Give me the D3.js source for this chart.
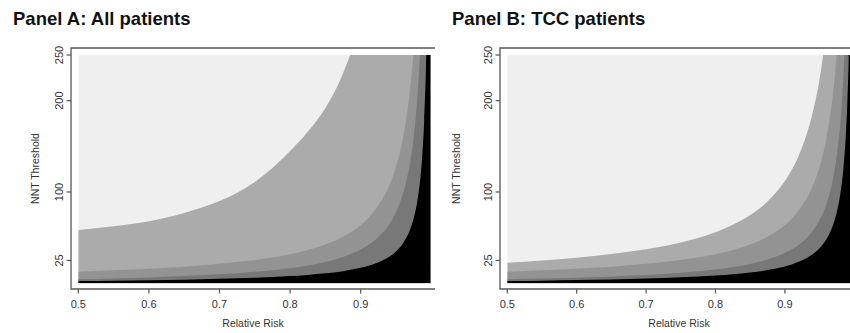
<!DOCTYPE html>
<html>
<head>
<meta charset="utf-8">
<script src="https://cdn.jsdelivr.net/npm/d3@7"></script>
<style>
  html, body { margin: 0; padding: 0; background: #fff; }
  svg { display: block; }
</style>
</head>
<body>
<svg id="chart" width="850" height="333"></svg>
<script>
// ---- data ----
const titles = ["Panel A: All patients", "Panel B: TCC patients"];
const xLabel = "Relative Risk";
const yLabel = "NNT Threshold";
const xTicks = [0.5, 0.6, 0.7, 0.8, 0.9];
const yTicks = [25, 100, 200, 250];
const yMax = 250;

const rrGrid = [0.5, 0.55, 0.6, 0.65, 0.7, 0.75, 0.8, 0.825, 0.85, 0.875, 0.9, 0.91, 0.92, 0.93, 0.94, 0.95, 0.96, 0.965, 0.97, 0.975, 0.98, 0.9825, 0.985, 0.9875, 0.99, 0.9925, 0.995, 0.9975, 0.999];

// Panel A boundaries (NNT value of upper edge of each shaded band)
const panelA_band1 = [58.5, 62.5, 68, 77, 90, 111, 145, 166, 192, 230, 290, 328, 370, 420, 490, 588, 735, 840, 980, 1176, 1470, 1680, 1960, 2352, 2940, 3920, 5880, 11760, 29400];
const panelA_band2 = [12.7, 14.2, 16.0, 18.2, 21.3, 25.5, 31.9, 36.5, 42.5, 51.0, 63.8, 70.9, 79.8, 91.1, 106.3, 127.6, 159.5, 182.3, 212.7, 255.2, 319, 364.6, 425.3, 510, 638, 850, 1276, 2552, 6380];
const panelA_band3 = [4.4, 5.3, 6.4, 7.9, 9.8, 12.6, 16.6, 19.6, 23.4, 28.9, 37.0, 41.6, 47.2, 54.5, 64.2, 77.8, 98.2, 112.8, 132.2, 159.4, 200.2, 229.4, 268.3, 322.6, 404.2, 540, 812, 1628, 4076];
const panelA_band4 = [2.5, 2.9, 3.4, 4.0, 4.9, 6.1, 7.9, 9.2, 10.9, 13.3, 16.9, 18.9, 21.4, 24.6, 28.9, 34.9, 43.9, 50.3, 58.9, 70.9, 88.9, 101.8, 118.9, 142.9, 178.9, 238.9, 358.9, 718.9, 1799];

// Panel B boundaries
const panelB_band1 = [22.4, 24.9, 28.0, 32.0, 37.3, 44.8, 56.0, 64.0, 74.7, 89.6, 112, 124.4, 140, 160, 186.7, 224, 280, 320, 373, 448, 560, 640, 747, 896, 1120, 1493, 2240, 4480, 11200];
const panelB_band2 = [12.7, 14.2, 16.0, 18.2, 21.3, 25.5, 31.9, 36.5, 42.5, 51.0, 63.8, 70.9, 79.8, 91.1, 106.3, 127.6, 159.5, 182.3, 212.7, 255.2, 319, 364.6, 425.3, 510, 638, 850, 1276, 2552, 6380];
const panelB_band3 = [4.4, 5.2, 6.2, 7.5, 9.2, 11.6, 15.2, 17.8, 21.2, 26.0, 33.2, 37.2, 42.2, 48.6, 57.2, 69.2, 87.2, 100.1, 117.2, 141.2, 177.2, 202.9, 237.2, 285.2, 357.2, 477, 717, 1437, 3597];
const panelB_band4 = [2.5, 2.9, 3.5, 4.2, 5.2, 6.5, 8.5, 9.9, 11.8, 14.5, 18.5, 20.7, 23.5, 27.1, 31.8, 38.5, 48.5, 55.6, 65.2, 78.5, 98.5, 112.8, 131.8, 158.5, 198.5, 265.2, 398.5, 798.5, 1998];

const bandColors = ["#ababab", "#939393", "#787878", "#000000"];
const bgColor = "#efefef";

// ---- layout ----
const panels = [
  { title: titles[0], bands: [panelA_band1, panelA_band2, panelA_band3, panelA_band4],
    titleX: 13, frameL: 71, frameR: 435, x0: 78.3, x1: 431.3, tickLblX: 62.5, yLblX: 38.5 },
  { title: titles[1], bands: [panelB_band1, panelB_band2, panelB_band3, panelB_band4],
    titleX: 452, frameL: 500, frameR: 858, x0: 507.3, x1: 854.3, tickLblX: 491.5, yLblX: 460 }
];
const frameT = 48, frameB = 289;

const svg = d3.select("#chart");
const font = "'Liberation Sans', Arial, Helvetica, sans-serif";
const axisColor = "#555";
const textColor = "#333";

panels.forEach((p, i) => {
  const x = d3.scaleLinear().domain([0.5, 1.0]).range([p.x0, p.x1]);
  const y = d3.scaleLinear().domain([0, yMax]).range([283.3, 55]);
  const g = svg.append("g");

  const clipId = "clip" + i;
  svg.append("defs").append("clipPath").attr("id", clipId)
    .append("rect")
    .attr("x", x(0.5)).attr("y", y(yMax))
    .attr("width", x(rrGrid[rrGrid.length - 1]) - x(0.5))
    .attr("height", y(0) - y(yMax));

  const plot = g.append("g").attr("clip-path", `url(#${clipId})`);
  plot.append("rect")
    .attr("x", x(0.5)).attr("y", y(yMax))
    .attr("width", x(rrGrid[rrGrid.length - 1]) - x(0.5))
    .attr("height", y(0) - y(yMax))
    .attr("fill", bgColor);

  p.bands.forEach((vals, k) => {
    const data = rrGrid.map((r, j) => ({ r, v: vals[j] }));
    const area = d3.area()
      .x(d => x(d.r))
      .y0(y(0))
      .y1(d => y(Math.min(d.v, 5000)))
      .curve(d3.curveMonotoneX);
    plot.append("path").datum(data).attr("d", area).attr("fill", bandColors[k]);
  });

  // frame (top, left, bottom)
  g.append("path")
    .attr("d", `M${p.frameR},${frameT}H${p.frameL}V${frameB}H${p.frameR}`)
    .attr("fill", "none").attr("stroke", axisColor).attr("stroke-width", 1.3);

  // y ticks
  yTicks.forEach(t => {
    g.append("line").attr("x1", p.frameL - 4.5).attr("x2", p.frameL)
      .attr("y1", y(t)).attr("y2", y(t))
      .attr("stroke", axisColor).attr("stroke-width", 1.2);
    g.append("text")
      .attr("transform", `translate(${p.tickLblX},${y(t)}) rotate(-90)`)
      .attr("text-anchor", "middle")
      .attr("font-family", font).attr("font-size", 11).attr("fill", textColor)
      .text(t);
  });

  // x ticks
  xTicks.forEach(t => {
    g.append("line").attr("x1", x(t)).attr("x2", x(t))
      .attr("y1", frameB).attr("y2", frameB + 4.5)
      .attr("stroke", axisColor).attr("stroke-width", 1.2);
    g.append("text")
      .attr("x", x(t)).attr("y", 307.5)
      .attr("text-anchor", "middle")
      .attr("font-family", font).attr("font-size", 11).attr("fill", textColor)
      .text(d3.format(".1f")(t));
  });

  // axis titles
  g.append("text")
    .attr("x", (p.frameL + p.frameR) / 2).attr("y", 326.5)
    .attr("text-anchor", "middle")
    .attr("font-family", font).attr("font-size", 10.5).attr("fill", textColor)
    .text(xLabel);
  g.append("text")
    .attr("transform", `translate(${p.yLblX},${(frameT + frameB) / 2}) rotate(-90)`)
    .attr("text-anchor", "middle")
    .attr("font-family", font).attr("font-size", 10.5).attr("fill", textColor)
    .text(yLabel);

  // panel title
  svg.append("text")
    .attr("x", p.titleX).attr("y", 25)
    .attr("font-family", font).attr("font-size", 18.5).attr("font-weight", "bold")
    .attr("fill", "#111")
    .text(p.title);
});
</script>
</body>
</html>
